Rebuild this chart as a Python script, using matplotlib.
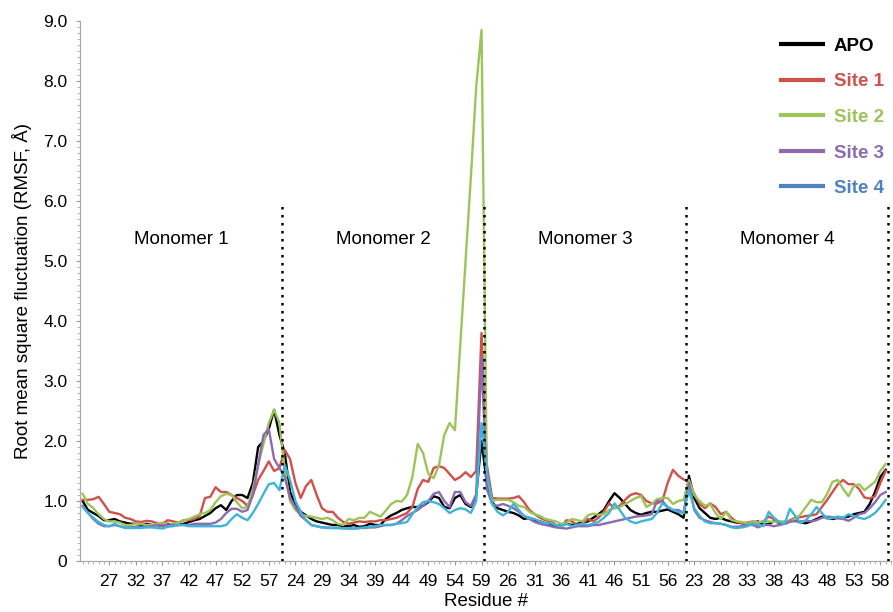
import matplotlib
matplotlib.use("Agg")
import matplotlib.pyplot as plt
from matplotlib.lines import Line2D
from matplotlib.ticker import MultipleLocator, FixedLocator

plt.rcParams['font.family'] = ['Liberation Sans', 'DejaVu Sans']

# ---- data ----
chain_residues = list(range(22, 60))          # residues 22..59 in each monomer
monomers = ["Monomer 1", "Monomer 2", "Monomer 3", "Monomer 4"]
series_names = ["APO", "Site 1", "Site 2", "Site 3", "Site 4"]

apo = [
    1.0, 0.85, 0.8, 0.75, 0.68, 0.68, 0.7, 0.66, 0.64, 0.62, 0.62, 0.6, 0.62, 0.6, 0.6, 0.58, 0.62, 0.6, 0.6,
    0.62, 0.65, 0.68, 0.7, 0.75, 0.8, 0.88, 0.93, 0.85, 1.0, 1.1, 1.1, 1.05, 1.3, 1.9, 2.0, 2.2, 2.52, 2.1,
    1.8, 1.15, 0.95, 0.82, 0.76, 0.7, 0.66, 0.64, 0.62, 0.6, 0.6, 0.58, 0.58, 0.6, 0.57, 0.58, 0.62, 0.6, 0.6,
    0.7, 0.76, 0.8, 0.85, 0.88, 0.9, 0.9, 0.92, 0.98, 1.08, 1.05, 0.9, 0.88, 1.05, 1.1, 0.95, 0.9, 1.1, 2.0,
    1.3, 0.98, 0.88, 0.85, 0.82, 0.8, 0.76, 0.7, 0.72, 0.68, 0.66, 0.63, 0.62, 0.58, 0.6, 0.62, 0.6, 0.62, 0.64,
    0.66, 0.72, 0.78, 0.85, 1.0, 1.13, 1.05, 0.95, 0.85, 0.8, 0.77, 0.8, 0.82, 0.82, 0.84, 0.86, 0.82, 0.78, 0.72,
    1.42, 1.05, 0.88, 0.8, 0.72, 0.7, 0.72, 0.68, 0.66, 0.64, 0.63, 0.62, 0.64, 0.66, 0.6, 0.62, 0.66, 0.64, 0.62,
    0.66, 0.68, 0.64, 0.63, 0.66, 0.7, 0.74, 0.72, 0.7, 0.72, 0.72, 0.74, 0.78, 0.8, 0.82, 0.95, 1.15, 1.4, 1.52,
]
site1 = [
    1.02, 1.02, 1.03, 1.07, 0.95, 0.82, 0.8, 0.78, 0.72, 0.7, 0.66, 0.65, 0.67, 0.66, 0.63, 0.62, 0.68, 0.66, 0.64,
    0.68, 0.68, 0.7, 0.75, 1.05, 1.07, 1.23, 1.15, 1.15, 1.1, 1.05, 1.0, 0.92, 1.1, 1.35, 1.5, 1.66, 1.5, 1.55,
    1.85, 1.7, 1.3, 1.05, 1.25, 1.35, 1.1, 0.88, 0.82, 0.82, 0.72, 0.65, 0.62, 0.64, 0.66, 0.65, 0.66, 0.66, 0.68,
    0.68, 0.7, 0.72, 0.76, 0.8, 0.9, 1.2, 1.35, 1.32, 1.55, 1.58, 1.55, 1.45, 1.35, 1.4, 1.48, 1.4, 1.5, 3.8,
    1.6, 1.05, 1.04, 1.04, 1.04, 1.05, 1.08, 0.98, 0.85, 0.78, 0.72, 0.68, 0.66, 0.6, 0.58, 0.68, 0.66, 0.6, 0.62,
    0.7, 0.66, 0.72, 0.82, 0.96, 0.88, 0.92, 1.02, 1.1, 1.13, 1.1, 1.0, 0.96, 0.96, 1.0, 1.3, 1.52, 1.42, 1.36,
    1.32, 1.12, 0.95, 0.88, 0.96, 0.9, 0.78, 0.82, 0.72, 0.65, 0.63, 0.64, 0.66, 0.64, 0.66, 0.74, 0.7, 0.65, 0.63,
    0.68, 0.72, 0.73, 0.75, 0.76, 0.78, 0.9, 1.02, 1.15, 1.28, 1.35, 1.28, 1.28, 1.2, 1.06, 1.04, 1.08, 1.3, 1.5,
]
site2 = [
    1.12, 0.95, 0.88, 0.78, 0.7, 0.66, 0.66, 0.64, 0.6, 0.6, 0.62, 0.62, 0.6, 0.6, 0.62, 0.64, 0.6, 0.62, 0.64,
    0.68, 0.7, 0.74, 0.78, 0.8, 0.85, 0.98, 1.08, 1.12, 1.1, 0.98, 0.88, 0.9, 1.2, 1.6, 1.95, 2.3, 2.52, 2.3,
    1.5, 1.0, 0.85, 0.78, 0.75, 0.74, 0.72, 0.7, 0.72, 0.68, 0.62, 0.6, 0.7, 0.68, 0.72, 0.72, 0.82, 0.78, 0.74,
    0.84, 0.95, 1.0, 0.99, 1.1, 1.4, 1.95, 1.8, 1.45, 1.38, 1.6, 2.1, 2.3, 2.18, 3.6, 5.0, 6.4, 7.9, 8.85,
    1.4, 1.0, 1.02, 1.02, 1.02, 0.98, 0.92, 0.9, 0.82, 0.78, 0.75, 0.7, 0.68, 0.66, 0.62, 0.64, 0.7, 0.68, 0.66,
    0.76, 0.79, 0.77, 0.78, 0.85, 0.88, 0.9, 0.95, 1.0, 1.05, 1.08, 0.9, 0.95, 1.03, 1.05, 1.05, 0.95, 1.0, 1.02,
    1.35, 1.1, 1.0, 0.92, 0.95, 0.8, 0.7, 0.82, 0.68, 0.66, 0.65, 0.62, 0.66, 0.64, 0.66, 0.66, 0.65, 0.66, 0.66,
    0.66, 0.7, 0.78, 0.9, 1.02, 0.98, 0.98, 1.12, 1.32, 1.35, 1.2, 1.08, 1.25, 1.28, 1.18, 1.25, 1.32, 1.5, 1.62,
]
site3 = [
    0.92, 0.8, 0.7, 0.62, 0.58, 0.58, 0.6, 0.58, 0.56, 0.56, 0.57, 0.57, 0.57, 0.58, 0.6, 0.58, 0.6, 0.6, 0.6,
    0.6, 0.6, 0.62, 0.62, 0.62, 0.62, 0.64, 0.7, 0.8, 0.87, 0.87, 0.82, 0.85, 1.1, 1.6, 2.1, 2.2, 1.7, 1.55,
    1.4, 1.05, 0.9, 0.75, 0.68, 0.6, 0.58, 0.56, 0.56, 0.55, 0.55, 0.55, 0.54, 0.54, 0.55, 0.55, 0.56, 0.56, 0.58,
    0.6, 0.6, 0.62, 0.68, 0.75, 0.8, 0.85, 0.92, 1.0, 1.12, 1.15, 1.0, 0.9, 1.15, 1.15, 0.98, 0.92, 1.1, 3.4,
    1.2, 0.95, 0.92, 0.95, 0.92, 0.88, 0.82, 0.75, 0.7, 0.65, 0.62, 0.6, 0.58, 0.56, 0.55, 0.54, 0.56, 0.58, 0.58,
    0.58, 0.6, 0.6, 0.62, 0.64, 0.66, 0.68, 0.7, 0.72, 0.74, 0.75, 0.76, 0.78, 1.0, 1.0, 0.9, 0.85, 0.85, 0.8,
    1.3, 0.85, 0.72, 0.68, 0.65, 0.63, 0.62, 0.6, 0.57, 0.57, 0.58, 0.6, 0.6, 0.56, 0.6, 0.6, 0.58, 0.6, 0.62,
    0.66, 0.66, 0.66, 0.67, 0.66, 0.68, 0.72, 0.74, 0.73, 0.71, 0.7, 0.67, 0.72, 0.78, 0.8, 0.88, 0.98, 1.1, 1.15,
]
site4 = [
    0.9, 0.8, 0.72, 0.65, 0.6, 0.58, 0.62, 0.58, 0.55, 0.55, 0.55, 0.55, 0.56, 0.56, 0.55, 0.54, 0.57, 0.58, 0.6,
    0.6, 0.58, 0.58, 0.58, 0.58, 0.58, 0.58, 0.58, 0.6, 0.7, 0.78, 0.72, 0.68, 0.8, 0.95, 1.12, 1.28, 1.3, 1.18,
    1.6, 1.35, 1.0, 0.82, 0.68, 0.6, 0.58, 0.56, 0.55, 0.55, 0.55, 0.54, 0.55, 0.54, 0.55, 0.56, 0.57, 0.58, 0.6,
    0.6, 0.6, 0.62, 0.63, 0.65, 0.78, 0.9, 0.98, 1.0, 0.98, 0.95, 0.88, 0.8, 0.85, 0.88, 0.86, 0.8, 1.0, 2.3,
    1.5, 0.95, 0.82, 0.76, 0.82, 0.95, 0.85, 0.75, 0.72, 0.7, 0.66, 0.63, 0.63, 0.6, 0.58, 0.62, 0.58, 0.6, 0.62,
    0.6, 0.62, 0.65, 0.72, 0.8, 0.96, 0.85, 0.72, 0.66, 0.63, 0.66, 0.68, 0.7, 0.8, 0.96, 0.9, 0.85, 0.82, 0.8,
    1.18, 0.88, 0.75, 0.66, 0.63, 0.63, 0.62, 0.6, 0.56, 0.55, 0.56, 0.58, 0.62, 0.6, 0.58, 0.82, 0.72, 0.65, 0.62,
    0.87, 0.75, 0.63, 0.68, 0.78, 0.9, 0.8, 0.7, 0.72, 0.74, 0.72, 0.78, 0.75, 0.72, 0.7, 0.74, 0.8, 0.9, 1.02,
]

series = [apo, site1, site2, site3, site4]
line_colors = ["#000000", "#d0504b", "#9cc459", "#8c6bb1", "#3db5d9"]
legend_colors = ["#000000", "#d0504b", "#9cc459", "#8c6bb1", "#4f82c0"]

residues = chain_residues * len(monomers)
n = len(residues)
nchain = len(chain_residues)
x = list(range(n))

# ---- figure ----
fig = plt.figure(figsize=(8.93, 6.12), dpi=100)
ax = fig.add_axes([80 / 893, 51 / 612, 811 / 893, 540 / 612])

for vals, col in zip(series, line_colors):
    ax.plot(x, vals, color=col, lw=1.7, solid_joinstyle='round')

# monomer separators
for k in range(1, len(monomers) + 1):
    ax.plot([k * nchain - 0.5] * 2, [0, 6.0], color='black', lw=1.8,
            linestyle=(0, (1, 2.2)), zorder=5)

for k, name in enumerate(monomers):
    ax.text(k * nchain + (nchain - 1) / 2, 5.35, name, ha='center', va='center', fontsize=13.5)

ax.set_xlim(-0.5, 152)
ax.set_ylim(0, 9)

# x ticks
tick_pos = [i for i in x if i % 5 == 0 and i > 0]
ax.xaxis.set_major_locator(FixedLocator(tick_pos))
ax.set_xticklabels([str(residues[i]) for i in tick_pos])
ax.xaxis.set_minor_locator(MultipleLocator(1))

# y ticks
yt = list(range(0, 10))
ax.set_yticks(yt)
ax.set_yticklabels(["0" if v == 0 else f"{v:.1f}" for v in yt])
ax.yaxis.set_minor_locator(MultipleLocator(0.1))

ax.tick_params(axis='both', which='major', labelsize=12.5, length=3, width=0.8, color='#999999', pad=6)
ax.tick_params(axis='both', which='minor', length=2, width=0.6, color='#aaaaaa')
for s in ['top', 'right']:
    ax.spines[s].set_visible(False)
for s in ['left', 'bottom']:
    ax.spines[s].set_color('#aaaaaa')
    ax.spines[s].set_linewidth(0.9)

ax.set_xlabel("Residue #", fontsize=13.5, labelpad=3)
ax.set_ylabel("Root mean square fluctuation (RMSF, Å)", fontsize=13.5, labelpad=8)

handles = [Line2D([0], [0], color=c, lw=3) for c in legend_colors]
leg = ax.legend(handles, series_names, loc='upper right', bbox_to_anchor=(1.012, 1.0),
                frameon=False, handlelength=2.2, handletextpad=0.6, labelspacing=0.98,
                prop={'weight': 'bold', 'size': 13.5})
for t, c in zip(leg.get_texts(), legend_colors):
    t.set_color(c)

fig.savefig("out.png", dpi=100)
